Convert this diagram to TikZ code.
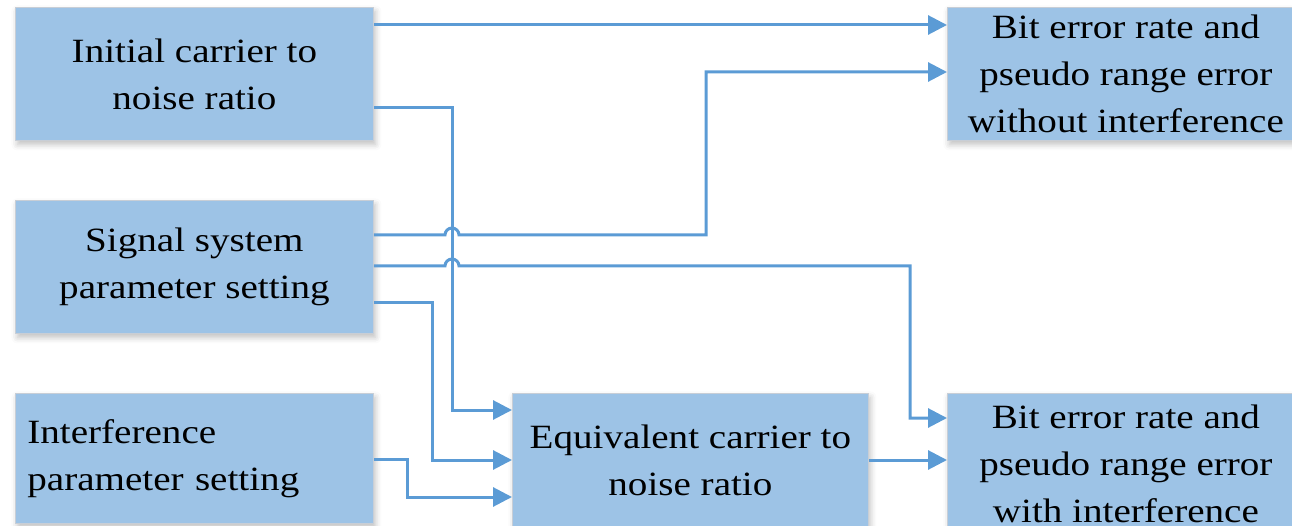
\documentclass[tikz,border=0pt]{standalone}
\usepackage{fontspec}
\setmainfont{Liberation Serif}[FakeStretch=1.15]
\usetikzlibrary{arrows.meta,shadows.blur}
\definecolor{boxfill}{HTML}{9DC3E6}
\definecolor{boxline}{HTML}{C8CED6}
\definecolor{conncol}{HTML}{5B9BD5}
\tikzset{
  blk/.style={draw=boxline, line width=0.8pt, fill=boxfill, inner sep=0pt, anchor=north west,
    align=center, font=\fontsize{34}{47}\selectfont,
    blur shadow={shadow xshift=2pt, shadow yshift=-4pt, shadow blur radius=6pt, shadow opacity=25}},
  conn/.style={draw=conncol, line width=3pt, -{Triangle[length=19pt,width=19pt]}},
  plain/.style={draw=conncol, line width=3pt}
}
\begin{document}
\begin{tikzpicture}[x=1pt,y=-1pt]
\useasboundingbox (0,0) rectangle (1292,526);
\clip (0,0) rectangle (1292,526);
\node[blk, minimum width=358pt, minimum height=133pt] (ini) at (15,7) {Initial carrier to\\noise ratio};
\node[blk, minimum width=358pt, minimum height=133pt] (sig) at (15,200) {Signal system\\parameter setting};
\node[blk, minimum width=358pt, minimum height=130pt, text width=334pt, align=left] (itf) at (15,393) {Interference\\parameter setting};
\node[blk, minimum width=356pt, minimum height=134pt] (eqv) at (512,393) {Equivalent carrier to\\noise ratio};
\node[blk, minimum width=357pt, minimum height=133pt] (nof) at (947,7) {Bit error rate and\\pseudo range error\\without interference};
\node[blk, minimum width=357pt, minimum height=140pt] (wif) at (947,393) {Bit error rate and\\pseudo range error\\with interference};
% initial -> without interference
\draw[conn] (ini.east |- 0,25) -- (nof.west |- 0,25);
% initial -> equivalent
\draw[conn] (ini.east |- 0,108) -- (452,108) -- (452,410) -- (eqv.west |- 0,410);
% signal -> without interference (hop)
\draw[conn] (sig.east |- 0,235) -- (445,235) arc[start angle=180, end angle=0, radius=7pt] -- (706,235) -- (706,72) -- (nof.west |- 0,72);
% signal -> with interference (hop)
\draw[conn] (sig.east |- 0,266) -- (445,266) arc[start angle=180, end angle=0, radius=7pt] -- (910,266) -- (910,418) -- (wif.west |- 0,418);
% signal -> equivalent
\draw[conn] (sig.east |- 0,303) -- (432,303) -- (432,460) -- (eqv.west |- 0,460);
% interference -> equivalent
\draw[conn] (itf.east |- 0,459) -- (407,459) -- (407,497) -- (eqv.west |- 0,497);
% equivalent -> with interference
\draw[conn] (eqv.east |- 0,460) -- (wif.west |- 0,460);
\end{tikzpicture}
\end{document}
